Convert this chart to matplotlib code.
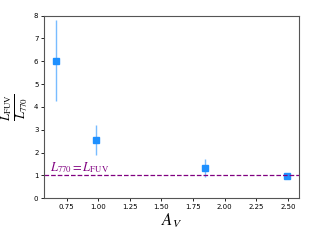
import numpy as np
import matplotlib; matplotlib.use("Agg")
import matplotlib.pyplot as plt

plt.rcParams["mathtext.fontset"] = "stix"

# A_V vs L_FUV / L_770 ratio
av = [0.663, 0.98, 1.842, 2.496]
ratio = [6.02, 2.55, 1.33, 0.99]
err = [1.78, 0.65, 0.38, 0.05]

fig = plt.figure(figsize=(3.2, 2.4), dpi=100)
ax = fig.add_axes([0.1375, 0.174, 0.797, 0.761])

ax.errorbar(av, ratio, yerr=err, fmt="none", ecolor="#1E90FF", alpha=0.6, elinewidth=1.0)
ax.plot(av, ratio, "s", color="#1E90FF", ms=4.5)
ax.axhline(1, ls="--", color="purple", lw=0.9)
ax.text(0.615, 1.0, r"$L_{770} = L_{\rm FUV}$", color="purple", fontsize=9, va="bottom")

ax.set_ylim(0, 8)
ax.set_xticks([0.75, 1.00, 1.25, 1.50, 1.75, 2.00, 2.25, 2.50])
ax.tick_params(labelsize=5, length=2, width=0.6, pad=2)
for s in ax.spines.values():
    s.set_linewidth(0.8)
    s.set_color("#555555")
ax.set_xlabel(r"$A_V$", fontsize=12, labelpad=1)
ax.set_ylabel(r"$\frac{L_{\rm FUV}}{L_{770}}$", fontsize=13, labelpad=2)

fig.savefig("out.png", dpi=100)
